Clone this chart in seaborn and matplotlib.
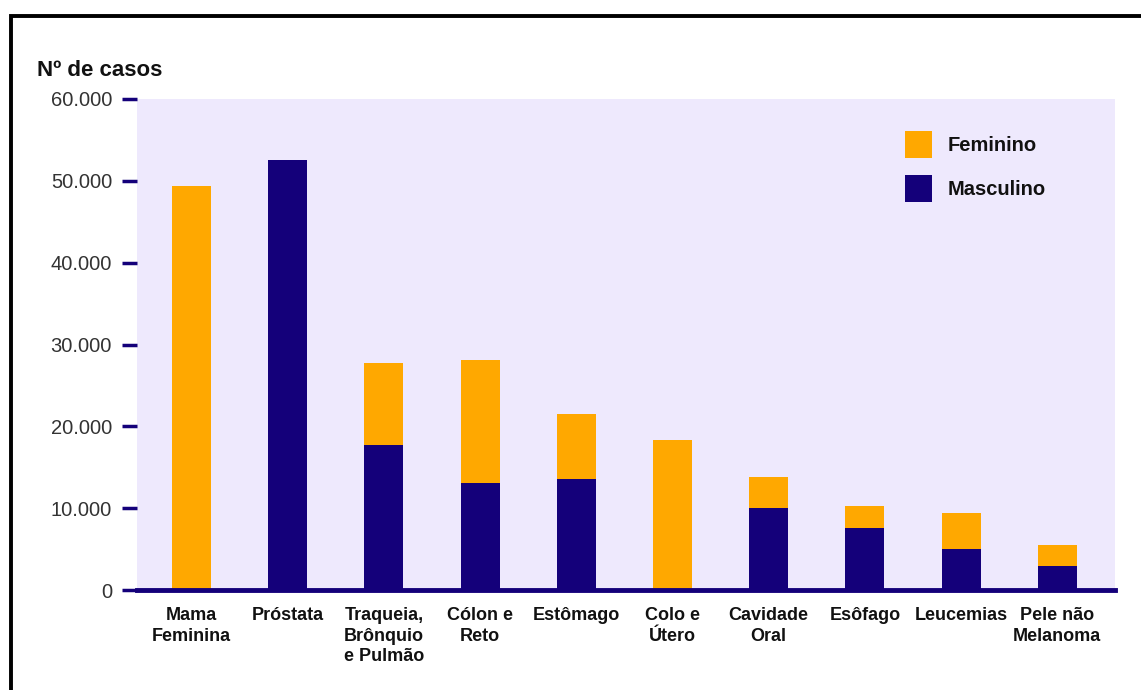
import matplotlib
matplotlib.use("Agg")
import matplotlib.pyplot as plt
import seaborn as sns
import pandas as pd
from matplotlib.patches import Patch, Rectangle
from matplotlib.ticker import FuncFormatter

categories = ["Mama\nFeminina", "Próstata", "Traqueia,\nBrônquio\ne Pulmão", "Cólon e\nReto",
              "Estômago", "Colo e\nÚtero", "Cavidade\nOral", "Esôfago", "Leucemias",
              "Pele não\nMelanoma"]
feminino = [49400, 0, 10000, 15000, 7950, 18350, 3800, 2700, 4400, 2600]
masculino = [0, 52600, 17750, 13100, 13550, 0, 10000, 7600, 5000, 2950]
yticks = [0, 10000, 20000, 30000, 40000, 50000, 60000]

ORANGE = "#FFA800"
NAVY = "#14007A"
LAVENDER = "#EEE9FD"

sns.set_theme(style="white")
plt.rcParams["font.family"] = ["Liberation Sans", "DejaVu Sans"]

df = pd.DataFrame({"cat": categories, "fem": feminino, "masc": masculino})
df["total"] = df["fem"] + df["masc"]

fig = plt.figure(figsize=(11.41, 6.90), dpi=100)
ax = fig.add_axes([137/1141, 1-590/690, (1115-137)/1141, (590-99)/690])
ax.set_facecolor(LAVENDER)

sns.barplot(data=df, x="cat", y="total", color=ORANGE, width=0.405, saturation=1, ax=ax, zorder=2)
sns.barplot(data=df, x="cat", y="masc", color=NAVY, width=0.405, saturation=1, ax=ax, zorder=3)
for p in ax.patches:
    p.set_edgecolor("none")

ax.set_xlim(-0.567, 9.60)
ax.set_ylim(0, 60000)
ax.set_yticks(yticks)
ax.yaxis.set_major_formatter(FuncFormatter(lambda v, _: f"{int(v):,}".replace(",", ".")))
ax.set_xlabel("")
ax.set_ylabel("")

for s in ["top", "right", "left"]:
    ax.spines[s].set_visible(False)
ax.spines["bottom"].set_color(NAVY)
ax.spines["bottom"].set_linewidth(3.5)
ax.spines["bottom"].set_zorder(5)

ax.tick_params(axis="y", which="both", left=True, direction="out", length=11, width=2.5,
               color=NAVY, pad=7, labelsize=14.5, labelcolor="#333333")
ax.tick_params(axis="x", length=0, pad=12)
for lab in ax.get_xticklabels():
    lab.set_fontweight("bold")
    lab.set_fontsize(13)
    lab.set_color("#111111")
    lab.set_linespacing(1.3)
    lab.set_verticalalignment("top")

handles = [Patch(facecolor=ORANGE, edgecolor="none", label="Feminino"),
           Patch(facecolor=NAVY, edgecolor="none", label="Masculino")]
leg = ax.legend(handles=handles, loc="upper left", bbox_to_anchor=(0.785, 0.935),
                frameon=False, borderpad=0, borderaxespad=0, handlelength=1.34,
                handleheight=1.7, handletextpad=0.78, labelspacing=0.82,
                prop={"weight": "bold", "size": 14.5})
for t in leg.get_texts():
    t.set_color("#111111")

fig.text(37/1141, 1-70/690, "Nº de casos", fontsize=16, fontweight="bold",
         ha="left", va="center", color="#111111")

fig.add_artist(Rectangle((11/1141, -0.1), 1.2, (1-16/690)+0.1, transform=fig.transFigure,
                         fill=False, lw=2.8, ec="black"))

fig.savefig("out.png", dpi=100, facecolor="white")
